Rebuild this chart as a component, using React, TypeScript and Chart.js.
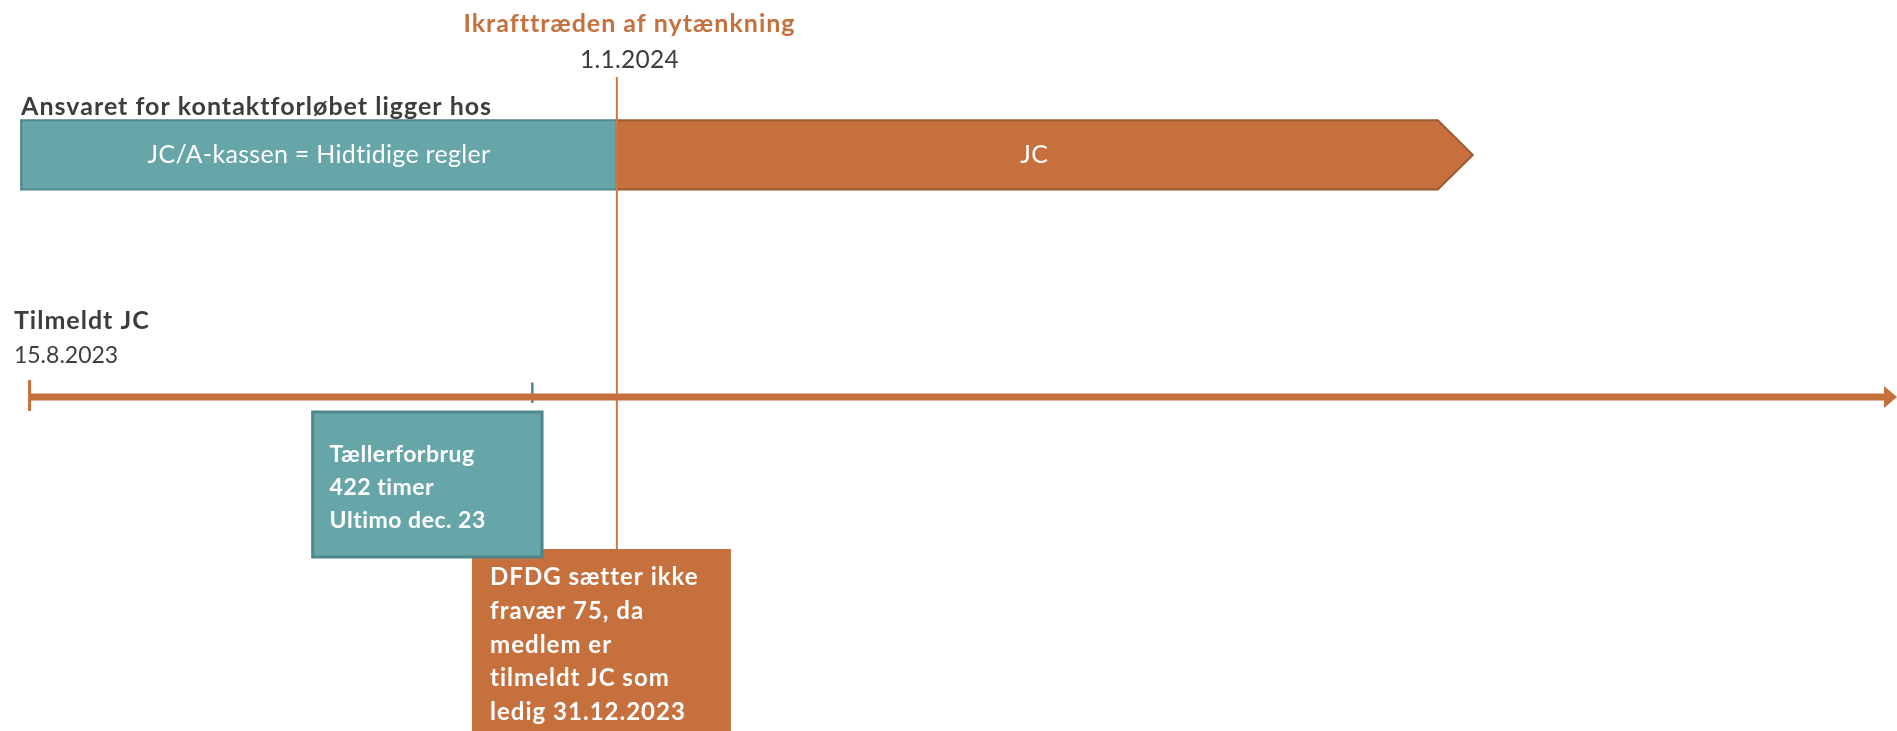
import { useEffect, useRef } from "react";
import { Chart, registerables } from "chart.js";

Chart.register(...registerables);

// ---- data (x values are days counted from 15.8.2023) ----
const phaseLabels = ["JC/A-kassen = Hidtidige regler", "JC"];
const phaseStart = [-2, 139];
const phaseEnd = [139, 341.6];
const phaseColors = ["#67A6A8", "#C5703D"];
const phaseBorders = ["#4E8789", "#9C5A30"];

const timelineStart = 0; // 15.8.2023
const timelineEnd = 442;
const switchDay = 139; // 1.1.2024
const counterDay = 119; // Tællerforbrug marker

const headerTitle = "Ikrafttræden af nytænkning";
const headerDate = "1.1.2024";
const laneTitle = "Ansvaret for kontaktforløbet ligger hos";
const startTitle = "Tilmeldt JC";
const startDate = "15.8.2023";

const counterLines = ["Tællerforbrug", "422 timer", "Ultimo dec. 23"];
const counterBoxX = [67, 121.3];
const noteLines = ["DFDG sætter ikke", "fravær 75, da", "medlem er", "tilmeldt JC som", "ledig 31.12.2023"];
const noteBoxX = [104.7, 166];

// lanes on the y scale
const LANE_PHASE = 1;
const LANE_TIME = 0;

// ---- styles ----
const ORANGE = "#C5703D";
const TEAL = "#67A6A8";
const TEAL_DARK = "#4E8789";
const DARK = "#3D3D3D";
const FONT = "Lato, 'Open Sans', sans-serif";

function setFont(ctx: any, font: string, spacing: number) {
  ctx.font = font;
  try {
    ctx.letterSpacing = `${spacing}px`;
  } catch (e) {
    /* ignore */
  }
}

export default function App() {
  const ref = useRef<HTMLCanvasElement | null>(null);

  useEffect(() => {
    document.body.style.margin = "0";
    document.body.style.overflow = "hidden";
    const canvas = ref.current;
    if (!canvas) return;

    const drawPlugin = {
      id: "timelineDraw",
      beforeDatasetsDraw(chart: any) {
        const { ctx } = chart;
        const xs = chart.scales.x;
        const ys = chart.scales.y;
        const X = (v: number) => xs.getPixelForValue(v);
        const Y = (v: number) => ys.getPixelForValue(v);
        ctx.save();
        const top = Y(LANE_PHASE + 0.143);
        const bot = Y(LANE_PHASE - 0.143);
        const mid = Y(LANE_PHASE);
        // first phase: rectangle
        ctx.fillStyle = phaseColors[0];
        ctx.strokeStyle = phaseBorders[0];
        ctx.lineWidth = 2;
        ctx.beginPath();
        ctx.rect(X(phaseStart[0]), top, X(phaseEnd[0]) - X(phaseStart[0]), bot - top);
        ctx.fill();
        ctx.stroke();
        // second phase: arrow
        const tipX = X(phaseEnd[1]);
        const headLen = 35;
        ctx.fillStyle = phaseColors[1];
        ctx.strokeStyle = phaseBorders[1];
        ctx.beginPath();
        ctx.moveTo(X(phaseStart[1]), top);
        ctx.lineTo(tipX - headLen, top);
        ctx.lineTo(tipX, mid);
        ctx.lineTo(tipX - headLen, bot);
        ctx.lineTo(X(phaseStart[1]), bot);
        ctx.closePath();
        ctx.fill();
        ctx.stroke();

        // note box (orange) then counter box (teal) on top
        ctx.fillStyle = ORANGE;
        ctx.fillRect(X(noteBoxX[0]), Y(-0.628), X(noteBoxX[1]) - X(noteBoxX[0]), Y(-1.5) - Y(-0.628));
        ctx.fillStyle = TEAL;
        ctx.strokeStyle = TEAL_DARK;
        ctx.lineWidth = 3;
        ctx.beginPath();
        ctx.rect(X(counterBoxX[0]), Y(-0.062), X(counterBoxX[1]) - X(counterBoxX[0]), Y(-0.661) - Y(-0.062));
        ctx.fill();
        ctx.stroke();
        ctx.restore();
      },
      afterDatasetsDraw(chart: any) {
        const { ctx } = chart;
        const xs = chart.scales.x;
        const ys = chart.scales.y;
        const X = (v: number) => xs.getPixelForValue(v);
        const Y = (v: number) => ys.getPixelForValue(v);
        ctx.save();
        // timeline arrowhead
        const tx = X(timelineEnd);
        const ty = Y(LANE_TIME);
        ctx.fillStyle = ORANGE;
        ctx.beginPath();
        ctx.moveTo(tx, ty);
        ctx.lineTo(tx - 13, ty - 11);
        ctx.lineTo(tx - 13, ty + 11);
        ctx.closePath();
        ctx.fill();

        ctx.textBaseline = "middle";
        // header
        ctx.textAlign = "center";
        ctx.fillStyle = ORANGE;
        setFont(ctx, `bold 25px ${FONT}`, 1);
        ctx.fillText(headerTitle, X(switchDay + 3), Y(1.541));
        ctx.fillStyle = DARK;
        setFont(ctx, `24.5px ${FONT}`, 0.3);
        ctx.fillText(headerDate, X(switchDay + 3), Y(1.393));

        // phase labels
        ctx.fillStyle = "#FFFFFF";
        setFont(ctx, `25px ${FONT}`, 0.3);
        ctx.fillText(phaseLabels[0], (X(phaseStart[0]) + X(phaseEnd[0])) / 2, Y(LANE_PHASE));
        ctx.fillText(phaseLabels[1], X(237.8), Y(LANE_PHASE));

        ctx.textAlign = "left";
        ctx.fillStyle = DARK;
        setFont(ctx, `bold 25px ${FONT}`, 1);
        ctx.fillText(laneTitle, X(phaseStart[0]), Y(1.2));

        setFont(ctx, `bold 25px ${FONT}`, 1);
        ctx.fillText(startTitle, X(timelineStart - 3.7), Y(0.314));
        setFont(ctx, `23px ${FONT}`, 0);
        ctx.fillText(startDate, X(timelineStart - 3.7), Y(0.169));

        // box texts
        ctx.fillStyle = "#FFFFFF";
        setFont(ctx, `bold 23px ${FONT}`, 0.5);
        const cy = [-0.240, -0.376, -0.512];
        counterLines.forEach((t, i) => ctx.fillText(t, X(counterBoxX[0] + 4), Y(cy[i])));
        setFont(ctx, `bold 24px ${FONT}`, 1);
        const ny = [-0.744, -0.884, -1.025, -1.161, -1.302];
        noteLines.forEach((t, i) => ctx.fillText(t, X(noteBoxX[0] + 4.3), Y(ny[i])));
        ctx.restore();
      },
    };

    const chart = new Chart(canvas, {
      type: "line",
      data: {
        datasets: [
          {
            label: "timeline",
            data: [
              { x: timelineStart, y: LANE_TIME },
              { x: timelineEnd - 3, y: LANE_TIME },
            ],
            borderColor: ORANGE,
            borderWidth: 7,
            pointRadius: 0,
          },
          {
            label: "start",
            data: [
              { x: timelineStart, y: 0.07 },
              { x: timelineStart, y: -0.058 },
            ],
            borderColor: ORANGE,
            borderWidth: 3,
            pointRadius: 0,
          },
          {
            label: "counter",
            data: [
              { x: counterDay, y: 0.06 },
              { x: counterDay, y: -0.025 },
            ],
            borderColor: TEAL_DARK,
            borderWidth: 2.5,
            pointRadius: 0,
          },
          {
            label: "switch",
            data: [
              { x: switchDay, y: 1.322 },
              { x: switchDay, y: -0.628 },
            ],
            borderColor: "#C87A4A",
            borderWidth: 2,
            pointRadius: 0,
          },
        ],
      },
      options: {
        animation: false,
        responsive: false,
        devicePixelRatio: 1,
        layout: { padding: 0 },
        plugins: { legend: { display: false }, tooltip: { enabled: false } },
        scales: {
          x: { type: "linear", min: -7, max: 442, display: false },
          y: { type: "linear", min: -1.38, max: 1.64, display: false },
        },
      },
      plugins: [drawPlugin],
    });
    return () => chart.destroy();
  }, []);

  return <canvas ref={ref} width={1897} height={731} style={{ display: "block" }} />;
}
